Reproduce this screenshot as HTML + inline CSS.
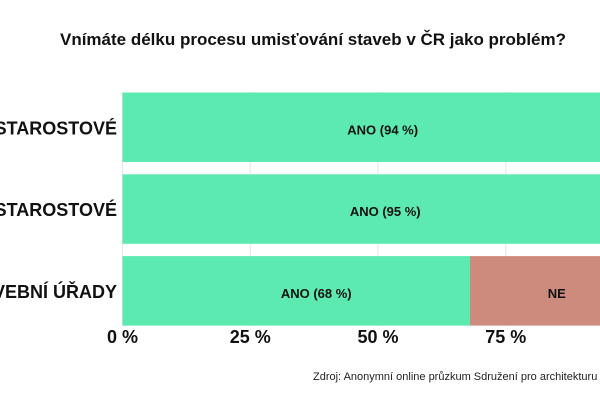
<!DOCTYPE html>
<html><head><meta charset="utf-8"><style>
html,body{margin:0;padding:0;background:#fff;}
svg{display:block;font-family:"Liberation Sans",sans-serif;}
</style></head><body>
<svg width="600" height="400" viewBox="0 0 600 400">
<text x="313" y="45" text-anchor="middle" font-size="17" font-weight="bold" fill="#111">Vnímáte délku procesu umisťování staveb v ČR jako problém?</text>
<g id="grid"></g>
<g id="bars"></g>
<g id="ticks"></g>
<text x="313" y="380" font-size="11" fill="#222">Zdroj: Anonymní online průzkum Sdružení pro architekturu a rozvoj</text>
</svg>
<script>
const categories = ["STAROSTOVÉ", "STAROSTOVÉ", "STAVEBNÍ ÚŘADY"];
const anoValues = [94, 95, 68];
const neValues = [6, 5, 32];
const tickValues = [0, 25, 50, 75, 100];
const tickLabels = ["0 %", "25 %", "50 %", "75 %", "100 %"];

const NS = "http://www.w3.org/2000/svg";
const x0 = 122.5, pxPerPct = 5.11;
const rowTop = 92.5, rowStep = 81.8, barH = 69.5;
function xs(v){ return x0 + v * pxPerPct; }
function ys(i){ return rowTop + i * rowStep; }
function mk(tag, attrs, parent){
  const el = document.createElementNS(NS, tag);
  for (const k in attrs) el.setAttribute(k, attrs[k]);
  parent.appendChild(el);
  return el;
}
const grid = document.getElementById("grid");
const bars = document.getElementById("bars");
const ticks = document.getElementById("ticks");

tickValues.forEach((t, i) => {
  const g = mk("line", {x1: xs(t), x2: xs(t), y1: 92, y2: 326, stroke: "#e6e6e6", "stroke-width": 1}, grid);
  
  
  const tx = mk("text", {x: xs(t), y: 343, "text-anchor": "middle", "font-size": 18, "font-weight": "bold", fill: "#111"}, ticks);
  tx.textContent = tickLabels[i];
  
  
});

categories.forEach((c, i) => {
  const y = ys(i);
  const lab = mk("text", {x: 117, y: y + barH/2 + 7, "text-anchor": "end", "font-size": 18, "font-weight": "bold", fill: "#111"}, bars);
  lab.textContent = c;
  
  

  const a = mk("rect", {x: xs(0), y: y, width: xs(anoValues[i]) - xs(0), height: barH, fill: "#5deab0"}, bars);
  
  
  const n = mk("rect", {x: xs(anoValues[i]), y: y, width: xs(anoValues[i] + neValues[i]) - xs(anoValues[i]), height: barH, fill: "#cd8b7e"}, bars);
  
  

  const at = mk("text", {x: (xs(0) + xs(anoValues[i]))/2 + 20, y: y + barH/2 + 7, "text-anchor": "middle", "font-size": 13, "font-weight": "bold", fill: "#111"}, bars);
  at.textContent = "ANO (" + anoValues[i] + " %)";
  
  
  if (neValues[i] >= 10) {
    const nt = mk("text", {x: (xs(anoValues[i]) + xs(100))/2 + 5, y: y + barH/2 + 7, "text-anchor": "middle", "font-size": 13, "font-weight": "bold", fill: "#111"}, bars);
    nt.textContent = "NE";
    
    
  }
});
</script>
</body></html>
